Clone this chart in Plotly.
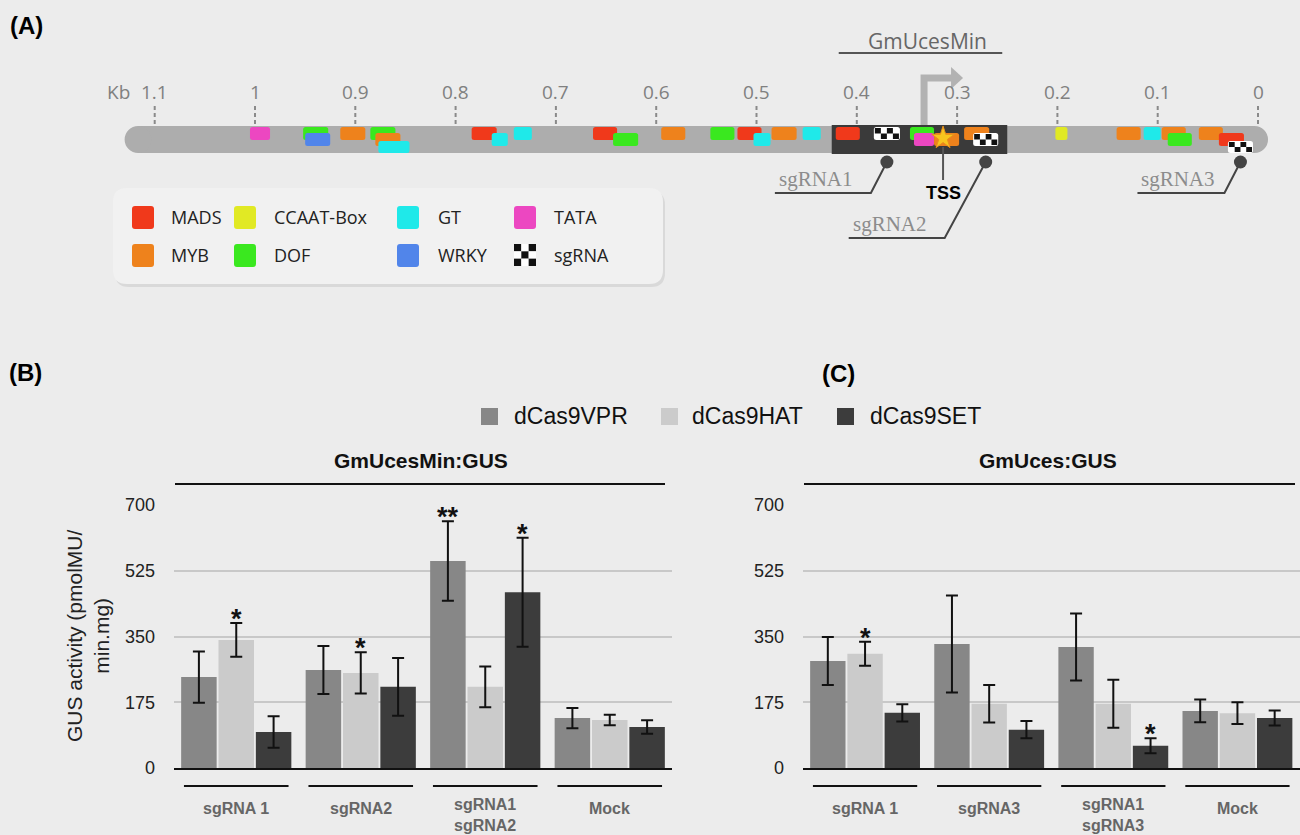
import plotly.graph_objects as go

W, H = 1300, 835
BG = "#ececec"
SANS = "Liberation Sans, Arial, Helvetica, sans-serif"
UI = "Open Sans, Noto Sans, sans-serif"
SERIF = "Liberation Serif, Times New Roman, serif"

# ---------------- (B) / (C) GUS activity data ----------------
series = ["dCas9VPR", "dCas9HAT", "dCas9SET"]
series_colors = ["#878787", "#cbcbcb", "#3c3c3c"]

b_title = "GmUcesMin:GUS"
b_categories = ["sgRNA 1", "sgRNA2", "sgRNA1<br>sgRNA2", "Mock"]
b_vpr = [242, 261, 551, 133]
b_vpr_err = [68, 64, 106, 27]
b_hat = [341, 253, 216, 128]
b_hat_err = [45, 55, 54, 14]
b_set = [96, 216, 468, 109]
b_set_err = [42, 77, 145, 18]
b_signif = [("dCas9HAT", 0, "*"), ("dCas9HAT", 1, "*"),
            ("dCas9VPR", 2, "**"), ("dCas9SET", 2, "*")]

c_title = "GmUces:GUS"
c_categories = ["sgRNA 1", "sgRNA3", "sgRNA1<br>sgRNA3", "Mock"]
c_vpr = [285, 330, 322, 152]
c_vpr_err = [64, 129, 89, 30]
c_hat = [304, 171, 171, 146]
c_hat_err = [32, 50, 64, 29]
c_set = [147, 102, 59, 133]
c_set_err = [23, 23, 20, 20]
c_signif = [("dCas9HAT", 0, "*"), ("dCas9SET", 2, "*")]

y_ticks = [0, 175, 350, 525, 700]
y_title = "GUS activity (pmolMU/<br>min.mg)"

# ---------------- (A) promoter map data ----------------
kb_ticks = [1.1, 1.0, 0.9, 0.8, 0.7, 0.6, 0.5, 0.4, 0.3, 0.2, 0.1, 0.0]
kb_tick_text = ["1.1", "1", "0.9", "0.8", "0.7", "0.6", "0.5", "0.4", "0.3", "0.2", "0.1", "0"]

motif_legend = ["MADS", "MYB", "CCAAT-Box", "DOF", "GT", "WRKY", "TATA", "sgRNA"]
motif_colors = {"MADS": "#f0391b", "MYB": "#ee821c", "CCAAT-Box": "#e1e924",
                "DOF": "#3ae81f", "GT": "#1fe9e9", "WRKY": "#5185ea",
                "TATA": "#ec47c1", "sgRNA": "#ffffff"}

# cis-element sites (upstream distance in kb) and stacking row
site_type = ["TATA", "DOF", "WRKY", "MYB", "DOF", "MYB", "GT", "MADS", "GT", "GT",
             "MADS", "DOF", "MYB", "DOF", "MADS", "GT", "MYB", "GT", "MADS", "sgRNA",
             "DOF", "TATA", "MYB", "MYB", "sgRNA", "CCAAT-Box", "MYB", "GT", "MYB", "DOF",
             "MYB", "MADS", "sgRNA"]
site_start = [1.005, 0.952, 0.950, 0.915, 0.885, 0.880, 0.877, 0.784, 0.764, 0.742,
              0.663, 0.643, 0.595, 0.546, 0.519, 0.503, 0.485, 0.454, 0.421, 0.383,
              0.347, 0.343, 0.323, 0.293, 0.284, 0.202, 0.141, 0.114, 0.096, 0.090,
              0.059, 0.039, 0.030]
site_end = [0.985, 0.927, 0.925, 0.890, 0.860, 0.855, 0.846, 0.759, 0.748, 0.724,
            0.639, 0.618, 0.571, 0.522, 0.495, 0.486, 0.460, 0.436, 0.397, 0.357,
            0.323, 0.323, 0.298, 0.268, 0.259, 0.190, 0.117, 0.097, 0.072, 0.066,
            0.035, 0.014, 0.005]
site_row = [0, 0, 1, 0, 0, 1, 2, 0, 1, 0,
            0, 1, 0, 0, 0, 1, 0, 0, 0, 0,
            0, 1, 1, 0, 1, 0, 0, 0, 0, 1,
            0, 1, 2]

gene_span_kb = (1.13, -0.01)
min_promoter_kb = (0.425, 0.250)
min_promoter_name = "GmUcesMin"
tss_kb = 0.314
guide_names = ["sgRNA1", "sgRNA2", "sgRNA3"]

# ---------------- helpers ----------------
PX_PER_KB = 1003.0
KB0_PX = 1258.0           # horizontal pixel of 0 kb
A_H = 309                 # height of the map strip (pixels from top)


def px(x):
    return x / W


def py(y):
    return 1 - y / H


def kbd(pixels):
    """horizontal pixel distance expressed in kb (map axis runs right-to-left)"""
    return pixels / PX_PER_KB


def rpath(x0, x1, y0, y1, rx, ry):
    sx = 1 if x1 > x0 else -1
    sy = 1 if y1 > y0 else -1
    rx *= sx
    ry *= sy
    f = lambda v: f"{v:.6f}"
    return (f"M{f(x0+rx)},{f(y0)} L{f(x1-rx)},{f(y0)} Q{f(x1)},{f(y0)} {f(x1)},{f(y0+ry)} "
            f"L{f(x1)},{f(y1-ry)} Q{f(x1)},{f(y1)} {f(x1-rx)},{f(y1)} "
            f"L{f(x0+rx)},{f(y1)} Q{f(x0)},{f(y1)} {f(x0)},{f(y1-ry)} "
            f"L{f(x0)},{f(y0+ry)} Q{f(x0)},{f(y0)} {f(x0+rx)},{f(y0)} Z")


def label(x, y, text, size, color, family=SANS, xref="paper", yref="paper",
          xanchor="center", yanchor="middle", **kw):
    d = dict(x=x, y=y, xref=xref, yref=yref, text=text, showarrow=False,
             xanchor=xanchor, yanchor=yanchor,
             font=dict(family=family, size=size, color=color))
    d.update(kw)
    return d


shapes = []
annotations = []
fig = go.Figure()

# ================= bar panels =================
panels = [
    dict(title=b_title, cats=b_categories, vals=[b_vpr, b_hat, b_set],
         errs=[b_vpr_err, b_hat_err, b_set_err], signif=b_signif,
         xa="x", ya="y", line_px=(175, 665), title_px=421),
    dict(title=c_title, cats=c_categories, vals=[c_vpr, c_hat, c_set],
         errs=[c_vpr_err, c_hat_err, c_set_err], signif=c_signif,
         xa="x2", ya="y2", line_px=(804, 1295), title_px=1048),
]
BARGAP = 0.1
slot = (1 - BARGAP) / len(series)

for p in panels:
    for k, name in enumerate(series):
        fig.add_trace(go.Bar(
            x=p["cats"], y=p["vals"][k], name=name,
            marker=dict(color=series_colors[k], line=dict(width=0)),
            error_y=dict(type="data", array=p["errs"][k], visible=True,
                         color="#111111", thickness=2, width=6),
            xaxis=p["xa"], yaxis=p["ya"], showlegend=False,
            hovertemplate=name + ": %{y}<extra></extra>"))
    # significance marks
    for name, i, txt in p["signif"]:
        k = series.index(name)
        top = p["vals"][k][i] + p["errs"][k][i]
        annotations.append(label(i + (k - 1) * slot, top, f"<b>{txt}</b>", 27, "#111",
                                 xref=p["xa"], yref=p["ya"], yanchor="bottom", yshift=-13))
    # category labels with underline bars
    for i, c in enumerate(p["cats"]):
        shapes.append(dict(type="line", xref=p["xa"], yref="paper",
                           x0=i - 0.42, x1=i + 0.42, y0=py(786), y1=py(786),
                           line=dict(color="#111", width=2)))
        two = "<br>" in c
        annotations.append(label(c, py(815 if two else 808), f"<b>{c}</b>", 16, "#666666",
                                 xref=p["xa"]))
    # panel heading + rule
    annotations.append(label(px(p["title_px"]), py(460), f"<b>{p['title']}</b>", 21, "#111"))
    shapes.append(dict(type="line", xref="paper", yref="paper",
                       x0=px(p["line_px"][0]), x1=px(p["line_px"][1]),
                       y0=py(484), y1=py(484), line=dict(color="#111", width=2)))

# y-axis title
annotations.append(label(px(88), py(636), y_title, 21, "#222", textangle=-90))

# series legend
leg_sq_x = [481, 661, 837]
leg_tx_x = [512, 690, 868]
for k, name in enumerate(series):
    shapes.append(dict(type="rect", xref="paper", yref="paper",
                       x0=px(leg_sq_x[k]), x1=px(leg_sq_x[k] + 17),
                       y0=py(408), y1=py(425), fillcolor=series_colors[k], line=dict(width=0)))
    annotations.append(label(px(leg_tx_x[k]), py(416), name, 23, "#111", xanchor="left"))

# panel letters
for txt, x, y in [("(A)", 26, 25), ("(B)", 25, 372), ("(C)", 838, 373)]:
    annotations.append(label(px(x), py(y), f"<b>{txt}</b>", 24, "#000"))

# ================= promoter map (A) =================
AX, AY = "x3", "y3"
chrom_y = (126, 153)
r = (chrom_y[1] - chrom_y[0]) / 2.0
left_kb, right_kb = gene_span_kb
shapes.append(dict(type="rect", xref=AX, yref=AY, x0=left_kb - kbd(r), x1=right_kb + kbd(r),
                   y0=chrom_y[0], y1=chrom_y[1], fillcolor="#adadad", line=dict(width=0),
                   layer="below"))
for c0 in (left_kb, right_kb + kbd(2 * r)):
    shapes.append(dict(type="circle", xref=AX, yref=AY, x0=c0, x1=c0 - kbd(2 * r),
                       y0=chrom_y[0], y1=chrom_y[1], fillcolor="#adadad",
                       line=dict(width=0), layer="below"))

# minimal promoter block
shapes.append(dict(type="rect", xref=AX, yref=AY, x0=min_promoter_kb[0], x1=min_promoter_kb[1],
                   y0=125, y1=154, fillcolor="#3a3a3a", line=dict(width=0), layer="below"))

# kb ruler
for t, lab in zip(kb_ticks, kb_tick_text):
    shapes.append(dict(type="line", xref=AX, yref=AY, x0=t, x1=t, y0=106, y1=125,
                       line=dict(color="#8a8a8a", width=2, dash="4px,3px"), layer="below"))
    annotations.append(label(t, 92, lab, 19, "#808080", family=UI, xref=AX, yref=AY))
annotations.append(label(px(118), py(92), "Kb", 19, "#808080", family=UI))

# cis-element boxes
row_y = {0: (127, 140), 1: (133, 146), 2: (141, 153)}
order = sorted(range(len(site_type)), key=lambda i: site_row[i])
for i in order:
    t = site_type[i]
    x0, x1 = site_start[i], site_end[i]
    y0, y1 = row_y[site_row[i]]
    shapes.append(dict(type="path", xref=AX, yref=AY,
                       path=rpath(x0, x1, y0, y1, kbd(2.5), 2.5),
                       fillcolor=motif_colors[t], line=dict(width=0), layer="below"))
    if t == "sgRNA":
        ncol, nrow = 4, 2
        ix0, ix1 = x0 - kbd(1), x1 + kbd(1)
        iy0, iy1 = y0 + 1, y1 - 1
        cw = (ix0 - ix1) / ncol
        ch = (iy1 - iy0) / nrow
        for rr in range(nrow):
            for cc in range(ncol):
                if (rr + cc) % 2 == 0:
                    shapes.append(dict(type="rect", xref=AX, yref=AY,
                                       x0=ix0 - cc * cw, x1=ix0 - (cc + 1) * cw,
                                       y0=iy0 + rr * ch, y1=iy0 + (rr + 1) * ch,
                                       fillcolor="#111", line=dict(width=0), layer="below"))

# promoter name with rule
mp_left, mp_right = min_promoter_kb
annotations.append(label((mp_left + mp_right) / 2 - kbd(8), 41, min_promoter_name, 21, "#666",
                         family=UI, xref=AX, yref=AY))
shapes.append(dict(type="line", xref=AX, yref=AY, x0=mp_left - kbd(7), x1=mp_right + kbd(5),
                   y0=53, y1=53, line=dict(color="#555", width=2), layer="below"))

# transcription start arrow
arrow_x = tss_kb + kbd(19)
shapes.append(dict(type="path", xref=AX, yref=AY, layer="below",
                   path=f"M{arrow_x:.5f},125 L{arrow_x:.5f},78 L{tss_kb - kbd(10):.5f},78",
                   line=dict(color="#b2b2b2", width=7), fillcolor="rgba(0,0,0,0)"))
shapes.append(dict(type="path", xref=AX, yref=AY, layer="below",
                   path=(f"M{tss_kb - kbd(8):.5f},67 L{tss_kb - kbd(20):.5f},78 "
                         f"L{tss_kb - kbd(8):.5f},89 Z"),
                   fillcolor="#b2b2b2", line=dict(width=0)))

# TSS pointer
shapes.append(dict(type="line", xref=AX, yref=AY, x0=tss_kb, x1=tss_kb, y0=147, y1=180,
                   line=dict(color="#555", width=2)))
annotations.append(label(tss_kb, 193, "<b>TSS</b>", 18, "#000", xref=AX, yref=AY))
fig.add_trace(go.Scatter(x=[tss_kb], y=[138], xaxis=AX, yaxis=AY, mode="markers",
                         marker=dict(symbol="star", size=17, color="#f8c51e",
                                     line=dict(color="#e8901c", width=1)),
                         showlegend=False, hoverinfo="skip"))

# guide RNA call-outs
guide_idx = [i for i, t in enumerate(site_type) if t == "sgRNA"]
guide_centers = [(site_start[i] + site_end[i]) / 2 for i in guide_idx]
drop = [31, 76, 31]
slant = [16, 41, 16]
tail = [96, 96, 87]
dot_y = 162
for name, xc, d, s, tl in zip(guide_names, guide_centers, drop, slant, tail):
    ey = dot_y + d
    ex = xc + kbd(s)
    shapes.append(dict(type="path", xref=AX, yref=AY,
                       path=f"M{xc:.5f},{dot_y} L{ex:.5f},{ey} L{ex + kbd(tl):.5f},{ey}",
                       line=dict(color="#444", width=2), fillcolor="rgba(0,0,0,0)"))
    annotations.append(label(ex + kbd(tl) - kbd(2), ey, name, 21, "#8c8c8c", family=SERIF,
                             xref=AX, yref=AY, xanchor="left", yanchor="bottom"))
fig.add_trace(go.Scatter(x=guide_centers, y=[dot_y] * len(guide_centers), xaxis=AX, yaxis=AY,
                         mode="markers", marker=dict(size=13, color="#444"),
                         showlegend=False, hoverinfo="skip"))

# element legend box
lb = (113, 663, 188, 284)
shapes.append(dict(type="path", xref="paper", yref="paper", layer="below",
                   path=rpath(px(lb[0] + 2), px(lb[1] + 2), py(lb[2] + 3), py(lb[3] + 3),
                              14 / W, 14 / H),
                   fillcolor="#d9d9d9", line=dict(width=0)))
shapes.append(dict(type="path", xref="paper", yref="paper", layer="below",
                   path=rpath(px(lb[0]), px(lb[1]), py(lb[2]), py(lb[3]), 14 / W, 14 / H),
                   fillcolor="#f1f1f1", line=dict(width=0)))
col_sq = [132, 234, 397, 514]
col_tx = [169, 272, 436, 552]
row_cy = [217, 255]
for n, name in enumerate(motif_legend):
    ci, ri = n // 2, n % 2
    x0, y0 = col_sq[ci], row_cy[ri] - 11
    if name == "sgRNA":
        cell = 22 / 3.0
        for rr in range(3):
            for cc in range(3):
                col = "#111" if (rr + cc) % 2 == 0 else "#ffffff"
                shapes.append(dict(type="rect", xref="paper", yref="paper",
                                   x0=px(x0 + cc * cell), x1=px(x0 + (cc + 1) * cell),
                                   y0=py(y0 + rr * cell), y1=py(y0 + (rr + 1) * cell),
                                   fillcolor=col, line=dict(width=0)))
    else:
        shapes.append(dict(type="path", xref="paper", yref="paper",
                           path=rpath(px(x0), px(x0 + 22), py(y0), py(y0 + 23), 3 / W, 3 / H),
                           fillcolor=motif_colors[name], line=dict(width=0)))
    annotations.append(label(px(col_tx[ci]), py(row_cy[ri]), name, 18, "#222",
                             family=UI, xanchor="left"))

# ================= layout =================
yax = dict(range=[0, 700], tickvals=y_ticks, domain=[py(768), py(505)],
           showgrid=True, gridcolor="#c8c8c8", gridwidth=1.5, zeroline=False,
           showline=False, ticks="", ticklabelstandoff=18, automargin=False,
           tickfont=dict(family=SANS, size=18, color="#222"), fixedrange=True)
xax = dict(range=[-0.5, 3.5], showticklabels=False, ticks="", showgrid=False,
           showline=True, linecolor="#111", linewidth=2, zeroline=False, fixedrange=True,
           automargin=False)

fig.update_layout(
    width=W, height=H, autosize=False, margin=dict(l=0, r=0, t=0, b=0, pad=0),
    paper_bgcolor=BG, plot_bgcolor="rgba(0,0,0,0)",
    barmode="group", bargap=BARGAP, bargroupgap=0.05,
    showlegend=False,
    xaxis=dict(xax, domain=[px(174), px(672)], anchor="y"),
    yaxis=dict(yax, anchor="x"),
    xaxis2=dict(xax, domain=[px(803), px(1299.5)], anchor="y2"),
    yaxis2=dict(yax, anchor="x2"),
    xaxis3=dict(domain=[0, 1], anchor="y3", visible=False, fixedrange=True, automargin=False,
                range=[KB0_PX / PX_PER_KB, (KB0_PX - W) / PX_PER_KB]),
    yaxis3=dict(domain=[py(A_H), 1], anchor="x3", visible=False, fixedrange=True,
                automargin=False, range=[A_H, 0]),
    shapes=shapes,
    annotations=annotations,
)

fig.write_html("out.html")
